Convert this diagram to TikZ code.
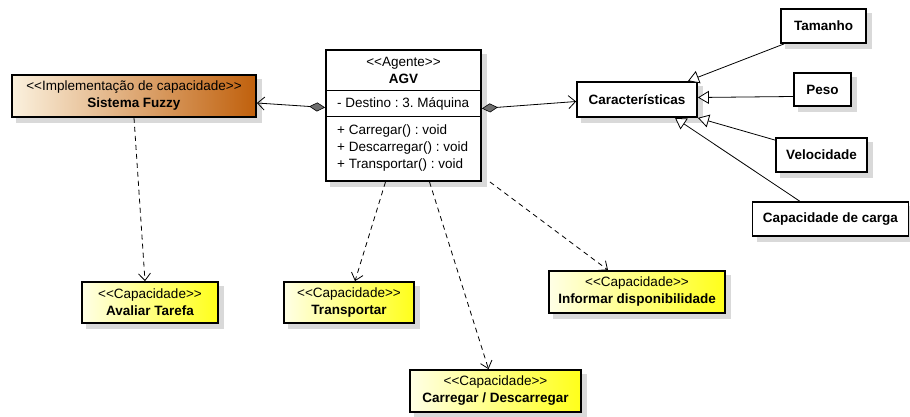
\documentclass[tikz,border=0pt]{standalone}
\usepackage{fontspec}
\setmainfont{Liberation Sans}
\usetikzlibrary{arrows.meta,calc,backgrounds}
\definecolor{fzL}{HTML}{FBF1DE}
\definecolor{fzR}{HTML}{C0600C}
\definecolor{ylL}{HTML}{FFFFE6}
\definecolor{ylR}{HTML}{FFFF1A}
\definecolor{shd}{HTML}{D9D9D9}
\definecolor{dia}{HTML}{6E6E6E}
\newcommand\stOpen{<\kern0pt<}
\newcommand\stClose{>\kern0pt>}
\frenchspacing
\begin{document}
\begin{tikzpicture}[x=1pt,y=-1pt,
  every node/.style={font=\fontsize{13.5}{17}\selectfont, inner sep=0pt},
  box/.style={draw=black, line width=1.8pt, rectangle, align=center},
  plainbox/.style={box, fill=white},
  capbox/.style={box, left color=ylL, right color=ylR},
  fuzzybox/.style={box, left color=fzL, right color=fzR},
  assoc/.style={line width=0.8pt, arrows={Diamond[length=16pt,width=9pt,fill=dia,line width=0.6pt]-Straight Barb[length=7pt,width=13pt,line width=0.8pt]}},
  gener/.style={line width=0.8pt, -{Triangle[length=11pt,width=13pt,fill=white,line width=0.8pt]}},
  depend/.style={line width=0.8pt, dash pattern=on 5pt off 4pt, -{Straight Barb[length=7pt,width=12pt,line width=0.8pt]}},
  txt/.style={anchor=west}
]
\useasboundingbox (0,0) rectangle (910,417);

% boxes
\node[fuzzybox, minimum width=244pt, minimum height=42pt] (fz) at (134,96)
  {\stOpen Implementação de capacidade\stClose\\ \textbf{Sistema Fuzzy}};
\node[plainbox, minimum width=155pt, minimum height=131pt] (agv) at (403.5,115.5) {};
\node[plainbox, minimum width=120pt, minimum height=35pt] (car) at (637,99.5) {\textbf{Características}};
\node[plainbox, minimum width=85pt, minimum height=34pt] (tam) at (823.5,26) {\textbf{Tamanho}};
\node[plainbox, minimum width=57pt, minimum height=33pt] (peso) at (822.5,89.5) {\textbf{Peso}};
\node[plainbox, minimum width=91pt, minimum height=34pt] (vel) at (821.5,155) {\textbf{Velocidade}};
\node[plainbox, minimum width=156pt, minimum height=34pt] (cdc) at (830.5,219) {\textbf{Capacidade de carga}};
\node[capbox, minimum width=136pt, minimum height=41pt] (av) at (150,302.5)
  {\stOpen Capacidade\stClose\\ \textbf{Avaliar Tarefa}};
\node[capbox, minimum width=130pt, minimum height=41pt] (tr) at (349,302.5)
  {\stOpen Capacidade\stClose\\ \textbf{Transportar}};
\node[capbox, minimum width=176pt, minimum height=42pt] (inf) at (637,292)
  {\stOpen Capacidade\stClose\\ \textbf{Informar disponibilidade}};
\node[capbox, minimum width=171pt, minimum height=42pt] (cd) at (495.5,391)
  {\stOpen Capacidade\stClose\\ \textbf{Carregar / Descarregar}};

% AGV contents
\node (agvst) at (403.5,63) {\stOpen Agente\stClose};
\node (agvnm) at (403.5,79) {\textbf{AGV}};
\draw[line width=1pt] ($(agv.north west)+(0,41)$) -- ($(agv.north east)+(0,41)$);
\draw[line width=1pt] ($(agv.north west)+(0,67)$) -- ($(agv.north east)+(0,67)$);
\node[txt] (attr) at (337,104) {- Destino : 3. Máquina};
\node[txt] (m1) at (337,131) {+ Carregar() : void};
\node[txt] (m2) at (337,148) {+ Descarregar() : void};
\node[txt] (m3) at (337,165) {+ Transportar() : void};

% shadows
\begin{scope}[on background layer]
  \foreach \n in {fz,agv,car,tam,peso,vel,cdc,av,tr,inf,cd}{
    \fill[shd] ($(\n.north west)+(5,5)$) rectangle ($(\n.south east)+(5,5)$);
  }
\end{scope}

% associations
\draw[assoc] ($(agv.west)+(0,-8)$) -- ($(fz.east)+(0,7)$);
\draw[assoc] ($(agv.east)+(0,-7)$) -- ($(car.west)+(0,2)$);

% generalizations
\draw[gener] ($(tam.south west)+(4,0)$) -- ($(car.north east)+(-10,0)$);
\draw[gener] ($(peso.west)+(0,7)$) -- ($(car.east)+(0,-2)$);
\draw[gener] ($(vel.north west)+(0,3)$) -- (car.south east);
\draw[gener] ($(cdc.north west)+(48,0)$) -- ($(car.south)+(38,0)$);

% dependencies
\draw[depend] (fz.south) -- ($(av.north)+(-5,0)$);
\draw[depend] ($(agv.south)+(-18,0)$) -- ($(tr.north)+(6,0)$);
\draw[depend] ($(agv.south)+(26,0)$) -- ($(cd.north)+(-7,0)$);
\draw[depend] ($(agv.south east)+(8,0)$) -- ($(inf.north)+(-29,0)$);
\end{tikzpicture}
\end{document}
